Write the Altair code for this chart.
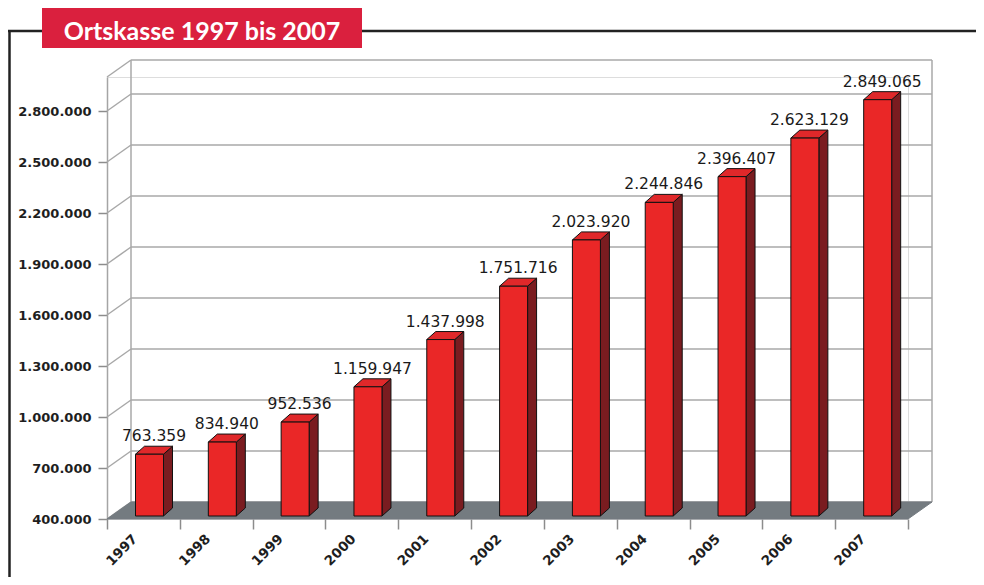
import altair as alt
import pandas as pd

# ---------------- data ----------------
years = ["1997", "1998", "1999", "2000", "2001", "2002", "2003", "2004", "2005", "2006", "2007"]
values = [763359, 834940, 952536, 1159947, 1437998, 1751716, 2023920, 2244846, 2396407, 2623129, 2849065]
y_ticks = [400000, 700000, 1000000, 1300000, 1600000, 1900000, 2200000, 2500000, 2800000]
y_min, y_max = 400000, 3000000
title_text = "Ortskasse 1997 bis 2007"

# ---------------- geometry (pixel styles converted to data units) ----------------
W, H = 801, 442
N = len(years)
PX = N / W                    # x units per pixel
PY = (y_max - y_min) / H      # y units per pixel

WALL_DX, WALL_DY = 24 * PX, 17 * PY
BAR_X0, BAR_W = 28.5 * PX, 28 * PX
BAR_DX, BAR_DY = 9 * PX, 8 * PY
BAR_LIFT = 3 * PY

# floor polygon
floor = pd.DataFrame({
    "x": [0, N, N + WALL_DX, WALL_DX],
    "y": [y_min, y_min, y_min + WALL_DY, y_min + WALL_DY],
    "k": [0, 1, 2, 3],
    "pid": ["floor"] * 4,
})

# back wall grid lines (and top edge)
grid_vals = y_ticks + [y_max]
back_grid = pd.DataFrame({
    "x": [WALL_DX] * len(grid_vals),
    "x2": [N + WALL_DX] * len(grid_vals),
    "y": [v + WALL_DY for v in grid_vals],
})
# left wall diagonals
left_grid = pd.DataFrame({
    "x": [0] * len(grid_vals),
    "x2": [WALL_DX] * len(grid_vals),
    "y": grid_vals,
    "y2": [v + WALL_DY for v in grid_vals],
})
# back wall vertical edges
wall_edges = pd.DataFrame({
    "x": [WALL_DX, N + WALL_DX],
    "y": [y_min + WALL_DY] * 2,
    "y2": [y_max + WALL_DY] * 2,
})

# bars
rows_front, rows_side, rows_top, rows_lab = [], [], [], []
for i, (yr, v) in enumerate(zip(years, values)):
    left = i + BAR_X0
    right = left + BAR_W
    base = y_min + BAR_LIFT
    top = v + BAR_LIFT
    rows_front.append({"year": yr, "x": left, "x2": right, "y": base, "y2": top})
    side = [(right, base), (right, top), (right + BAR_DX, top + BAR_DY), (right + BAR_DX, base + BAR_DY)]
    for k, (px_, py_) in enumerate(side):
        rows_side.append({"pid": yr, "k": k, "x": px_, "y": py_})
    tface = [(left, top), (right, top), (right + BAR_DX, top + BAR_DY), (left + BAR_DX, top + BAR_DY)]
    for k, (px_, py_) in enumerate(tface):
        rows_top.append({"pid": yr, "k": k, "x": px_, "y": py_})
    rows_lab.append({"year": yr, "value": v, "x": left + (BAR_W + BAR_DX) / 2, "y": top + BAR_DY})

front = pd.DataFrame(rows_front)
side_df = pd.DataFrame(rows_side)
top_df = pd.DataFrame(rows_top)
labels = pd.DataFrame(rows_lab)
year_lab = pd.DataFrame({"year": years, "x": [i + 0.5 for i in range(N)], "y": [y_min] * N})
ticks_df = pd.DataFrame({"x": list(range(N + 1)), "y": [y_min] * (N + 1)})

# ---------------- scales / axes ----------------
xs = alt.Scale(domain=[0, N], nice=False, zero=False)
ys = alt.Scale(domain=[y_min, y_max], nice=False, zero=False)
x_axis = alt.Axis(values=list(range(N + 1)), labels=False, ticks=True, tickSize=10,
                  tickColor="#8c8c8c", tickWidth=1.5, domain=False, grid=False, title=None)
y_axis = alt.Axis(values=y_ticks, format=",d", labelFont="DejaVu Sans", labelFontWeight="bold",
                  labelFontSize=13, labelColor="#1e1e1e", tickSize=9, tickColor="#8c8c8c",
                  tickWidth=1.5, domainColor="#a5a5a5", domainWidth=1.5, labelPadding=7,
                  grid=False, title=None)


def X(f="x"):
    return alt.X(f"{f}:Q", scale=xs, axis=x_axis, title=None)


def Y(f="y"):
    return alt.Y(f"{f}:Q", scale=ys, axis=y_axis, title=None)


GRID = "#a8a8a8"

back_layer = alt.Chart(back_grid).mark_rule(color=GRID, strokeWidth=1.5).encode(
    x=X(), x2="x2:Q", y=Y())
left_layer = alt.Chart(left_grid).mark_rule(color=GRID, strokeWidth=1.5).encode(
    x=X(), x2="x2:Q", y=Y(), y2="y2:Q")
edge_layer = alt.Chart(wall_edges).mark_rule(color=GRID, strokeWidth=1.5).encode(
    x=X(), y=Y(), y2="y2:Q")
floor_layer = alt.Chart(floor).mark_line(interpolate="linear-closed", fill="#747b80",
                                         stroke="#747b80", strokeWidth=1).encode(
    x=X(), y=Y(), order="k:Q", detail="pid:N")
tick_layer = alt.Chart(ticks_df).mark_point(opacity=0).encode(x=X(), y=Y())

side_layer = alt.Chart(side_df).mark_line(interpolate="linear-closed", fill="#7a1c20",
                                          stroke="#111111", strokeWidth=1).encode(
    x=X(), y=Y(), order="k:Q", detail="pid:N")
top_layer = alt.Chart(top_df).mark_line(interpolate="linear-closed", fill="#e0282a",
                                        stroke="#111111", strokeWidth=1).encode(
    x=X(), y=Y(), order="k:Q", detail="pid:N")
front_layer = alt.Chart(front).mark_bar(color="#ea2727", stroke="#111111", strokeWidth=1).encode(
    x=X(), x2="x2:Q", y=Y(), y2="y2:Q")

value_labels = alt.Chart(labels).mark_text(font="DejaVu Sans", fontSize=15.5, color="#1a1a1a",
                                           baseline="alphabetic", align="center", dy=-5).encode(
    x=X(), y=Y(), text=alt.Text("value:Q", format=",d"))

year_labels = alt.Chart(year_lab).mark_text(font="DejaVu Sans", fontWeight="bold", fontSize=13.5,
                                            color="#1e1e1e", angle=315, align="right",
                                            baseline="middle", xOffset=-8, yOffset=18).encode(
    x=X(), y=Y(), text="year:N")

one = pd.DataFrame({"t": [title_text]})
frame_top = alt.Chart(one).mark_rule(color="#222222", strokeWidth=2.5).encode(
    x=alt.value(-99), x2=alt.value(869), y=alt.value(-46))
frame_left = alt.Chart(one).mark_rule(color="#222222", strokeWidth=2.5).encode(
    x=alt.value(-97.5), y=alt.value(-46), y2=alt.value(500))
title_box = alt.Chart(one).mark_rect(color="#da203e").encode(
    x=alt.value(-65), x2=alt.value(255), y=alt.value(-69), y2=alt.value(-29))
title_txt = alt.Chart(one).mark_text(font="Lato", fontWeight="bold", fontSize=25, color="white",
                                     align="center", baseline="alphabetic").encode(
    x=alt.value(95), y=alt.value(-37), text="t:N")

chart = alt.layer(
    frame_top, frame_left, title_box, title_txt,
    back_layer, left_layer, edge_layer, floor_layer, tick_layer,
    side_layer, top_layer, front_layer, value_labels, year_labels,
).properties(
    width=W, height=H,
    autosize=alt.AutoSizeParams(type="none"),
    padding={"left": 99, "top": 69, "right": 68, "bottom": 58},
).configure_view(stroke=None).configure(
    locale={"number": {"decimal": ",", "thousands": ".", "grouping": [3], "currency": ["", " €"]}}
)

chart.save("out.html", embed_options={"renderer": "svg", "actions": False})
